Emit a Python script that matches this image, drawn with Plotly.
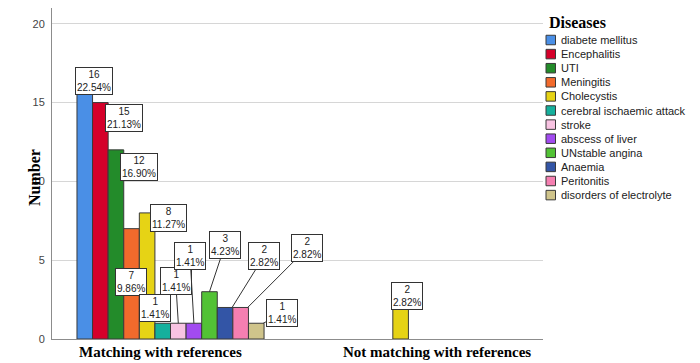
import plotly.graph_objects as go

# ---------------- data ----------------
diseases = ["diabete mellitus", "Encephalitis", "UTI", "Meningitis", "Cholecystis",
            "cerebral ischaemic attack", "stroke", "abscess of liver",
            "UNstable angina", "Anaemia", "Peritonitis", "disorders of electrolyte"]
categories = ["Matching with references", "Not matching with references"]
matching = [16, 15, 12, 7, 8, 1, 1, 1, 3, 2, 2, 1]
not_matching = [None, None, None, None, 2, None, None, None, None, None, None, None]
y_ticks = [0, 5, 10, 15, 20]

# ---------------- styling ----------------
colors = ["#4A8FE6", "#D5002A", "#238B2A", "#F26A2C", "#E6D315", "#15B09D",
          "#F8C3E2", "#A24BF0", "#52C235", "#3355A6", "#F57FB1", "#CFC48B"]
SANS = "Liberation Sans"
SERIF = "Liberation Serif"

L, R, T, B = 52, 543, 8, 339          # plot area in pixels
W, H = 700, 363
bargap = 0.262
x_range = [-0.4675, 1.4694]
y_range = [0, 21]

# label box offsets (pixels) per (group, bar index): ax, ay, tip x shift, leader visible
label_style = {
    (0, 0): (9, -5.5, 0, False),
    (0, 1): (24, 15, 0, False),
    (0, 2): (23, 17.5, 0, False),
    (0, 3): (-0.5, 53, 0, False),
    (0, 4): (21, 5, 0, False),
    (0, 5): (-7.7, -15, 0, False),
    (0, 6): (-2.6, -42, 0, True),
    (0, 7): (-3.9, -67.7, 0, True),
    (0, 8): (15.6, -47, 0, True),
    (0, 9): (32, -51.5, 7, True),
    (0, 10): (59, -59, 7, True),
    (0, 11): (19, -9.75, 7, True),
    (1, 4): (6, -11, 0, False),
}


def px_to_paper_x(px):
    return (px - L) / (R - L)


def px_to_paper_y(py):
    return (B - py) / (B - T)


fig = go.Figure()
for name, col, m, n in zip(diseases, colors, matching, not_matching):
    fig.add_trace(go.Bar(
        x=[0, 1], y=[m, n], name=name,
        marker=dict(color=col, line=dict(color="#3a3a3a", width=1)),
        showlegend=False, hoverinfo="skip",
    ))

total = sum(v for v in matching if v) + sum(v for v in not_matching if v)
n_bars = len(diseases)
group_w = 1 - bargap
annotations = []
for g, series in enumerate([matching, not_matching]):
    for i, v in enumerate(series):
        if v is None:
            continue
        ax, ay, dx, leader = label_style[(g, i)]
        xc = g - group_w / 2 + (i + 0.5) * group_w / n_bars
        annotations.append(dict(
            x=xc, y=v, xref="x", yref="y", xshift=dx,
            text=f"{v}<br>{v / total * 100:.2f}%",
            showarrow=True, arrowhead=0, arrowwidth=1, standoff=0,
            arrowcolor="#333333" if leader else "rgba(0,0,0,0)",
            ax=ax, ay=ay,
            bgcolor="white", bordercolor="#333333", borderwidth=1, borderpad=1,
            font=dict(family=SANS, size=10, color="#222222"),
        ))

# category labels
cat_shift = [-10.5, 12.5]
for g, cat in enumerate(categories):
    annotations.append(dict(
        x=g, y=0, xref="x", yref="paper", xshift=cat_shift[g], yshift=-3,
        yanchor="top", xanchor="center", showarrow=False, text=f"<b>{cat}</b>",
        font=dict(family=SERIF, size=15, color="#000000"),
    ))

# y axis title
annotations.append(dict(
    x=0, y=px_to_paper_y(178), xref="paper", yref="paper", xshift=-(L - 24.5),
    showarrow=False, textangle=-90, text="<b>Number</b>",
    font=dict(family=SERIF, size=16, color="#000000"),
))

# custom legend
annotations.append(dict(
    x=px_to_paper_x(547), y=px_to_paper_y(23), xref="paper", yref="paper",
    xanchor="left", yanchor="middle", showarrow=False, text="<b>Diseases</b>",
    font=dict(family=SERIF, size=16, color="#000000"),
))
shapes = []
for k, (name, col) in enumerate(zip(diseases, colors)):
    cy = 40 + 14.1 * k
    shapes.append(dict(
        type="rect", xref="paper", yref="paper",
        x0=px_to_paper_x(546), x1=px_to_paper_x(555.5),
        y0=px_to_paper_y(cy + 4.75), y1=px_to_paper_y(cy - 4.75),
        fillcolor=col, line=dict(color="#3a3a3a", width=1),
    ))
    annotations.append(dict(
        x=px_to_paper_x(558.5), y=px_to_paper_y(cy), xref="paper", yref="paper",
        xanchor="left", yanchor="middle", showarrow=False, text=name,
        font=dict(family=SANS, size=11, color="#222222"),
    ))

fig.update_layout(
    width=W, height=H,
    margin=dict(l=L, r=W - R, t=T, b=H - B, pad=0),
    paper_bgcolor="white", plot_bgcolor="white",
    barmode="group", bargap=bargap, bargroupgap=0,
    showlegend=False,
    annotations=annotations, shapes=shapes,
    xaxis=dict(range=x_range, showticklabels=False, showgrid=False, zeroline=False,
               showline=True, linecolor="#8c8c8c", linewidth=1, ticks=""),
    yaxis=dict(range=y_range, tickvals=y_ticks, showgrid=True, gridcolor="#d6d6d6",
               gridwidth=1, zeroline=False, showline=True, linecolor="#8c8c8c",
               linewidth=1, ticks="outside", ticklen=4, tickcolor="rgba(0,0,0,0)",
               tickfont=dict(family=SANS, size=11, color="#444444")),
)

fig.write_html("out.html")
